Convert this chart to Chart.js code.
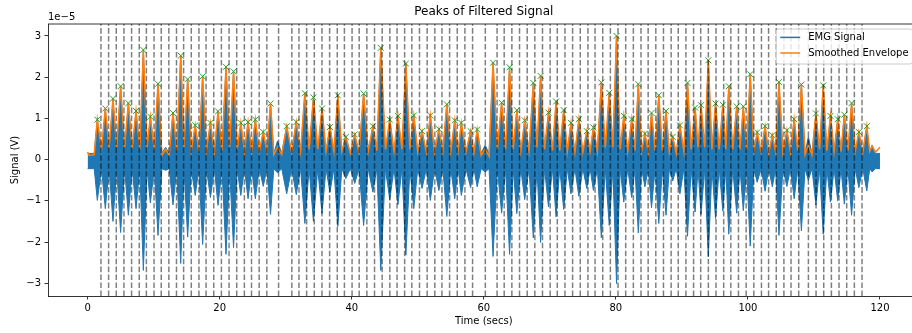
<!DOCTYPE html>
<html>
<head>
<meta charset="utf-8">
<script src="https://cdn.jsdelivr.net/npm/chart.js@4.4.0/dist/chart.umd.min.js"></script>
<style>
html,body{margin:0;padding:0;background:#fff;overflow:hidden;width:912px;height:333px}
#wrap{width:912px;height:333px;overflow:hidden;position:relative}
canvas{display:block}
</style>
</head>
<body>
<div id="wrap"><canvas id="c" width="930" height="333"></canvas></div>
<script>
// ---- data (signal values in units of 1e-5 V, time in seconds) ----
const peakT = [1.47, 2.68, 3.84, 5.0, 6.17, 7.33, 8.44, 9.5, 10.66, 12.93,
  14.1, 15.15, 16.3, 17.42, 18.6, 19.75, 20.96, 22.1, 23.2, 24.3,
  25.4, 26.6, 27.7, 30.15, 31.6, 32.9, 34.2, 35.5, 36.7, 37.9,
  39.1, 40.45, 41.8, 43.2, 44.4, 45.76, 47.0, 48.2, 49.4, 50.65,
  51.9, 53.2, 54.4, 55.6, 56.6, 58.0, 59.0, 61.4, 62.7, 63.9,
  65.0, 66.2, 67.5, 68.6, 69.8, 70.95, 72.1, 73.2, 74.4, 75.6,
  76.6, 77.8, 79.0, 80.1, 81.2, 82.4, 83.4, 84.4, 85.4, 86.5,
  87.6, 88.6, 89.7, 90.85, 92.0, 92.9, 94.0, 95.1, 96.2, 97.1,
  98.3, 99.3, 100.35, 101.4, 102.6, 103.7, 104.7, 105.9, 107.0, 108.1,
  110.3, 111.4, 112.5, 113.6, 114.6, 115.7, 116.8, 118.0];
const peakV = [0.97, 1.24, 1.48, 1.78, 1.37, 1.18, 2.66, 1.04, 1.84, 1.13,
  2.52, 1.95, 0.83, 2.02, 0.89, 1.17, 2.25, 2.14, 0.89, 0.91,
  0.97, 0.67, 1.36, 0.81, 0.91, 1.61, 1.51, 1.24, 0.79, 1.56,
  0.55, 0.61, 1.60, 0.81, 2.71, 0.97, 1.06, 2.33, 1.07, 0.69,
  1.07, 0.74, 1.34, 0.95, 0.89, 0.69, 0.73, 2.35, 1.38, 2.24,
  1.20, 0.95, 1.86, 2.03, 1.14, 1.41, 1.20, 0.89, 0.98, 0.69,
  0.78, 1.87, 1.62, 3.00, 1.06, 0.98, 1.83, 0.63, 1.13, 1.56,
  1.18, 0.55, 0.83, 1.86, 1.26, 1.32, 2.41, 1.36, 1.33, 1.78,
  1.29, 1.29, 2.07, 0.66, 0.81, 0.59, 1.88, 0.71, 0.98, 1.82,
  1.12, 1.80, 1.06, 0.98, 1.09, 1.37, 0.67, 0.81];
// EMG negative excursion at each burst
const peakLow = [-0.99, -1.19, -1.50, -1.77, -1.35, -1.19, -2.69, -1.05, -1.84, -1.10,
  -2.52, -1.88, -0.87, -2.06, -0.92, -1.11, -2.30, -2.14, -0.87, -0.95,
  -0.95, -0.65, -1.33, -0.83, -0.85, -1.55, -1.50, -1.31, -0.79, -1.62,
  -0.46, -0.58, -1.60, -0.79, -2.69, -0.97, -1.09, -2.32, -1.19, -0.70,
  -0.99, -0.75, -1.38, -0.95, -0.87, -0.68, -0.66, -2.35, -1.30, -2.30,
  -1.31, -0.97, -1.90, -2.01, -1.15, -1.39, -1.21, -0.83, -0.89, -0.70,
  -0.75, -1.90, -1.60, -3.01, -1.03, -0.92, -1.78, -0.66, -1.17, -1.55,
  -1.35, -0.52, -0.83, -1.86, -1.27, -1.33, -2.36, -1.43, -1.25, -1.81,
  -1.30, -1.24, -2.10, -0.55, -0.77, -0.66, -1.84, -0.65, -0.95, -1.73,
  -1.10, -1.81, -1.03, -1.00, -1.08, -1.35, -0.68, -0.76];
// envelope between bursts
const valleyT = [0, 0.25, 1.0, 2.1, 3.25, 4.4, 5.6, 6.75, 7.9, 9.0, 10.1, 11.25, 12.35,
  13.5, 14.6, 15.7, 16.85, 18.0, 19.2, 20.35, 21.5, 22.65, 23.75, 24.85, 26.0, 27.15,
  28.2, 29.4, 30.9, 32.25, 33.55, 34.85, 36.1, 37.3, 38.5, 39.8, 41.1, 42.5, 43.8,
  45.1, 46.4, 47.6, 48.8, 50.0, 51.3, 52.55, 53.8, 55.0, 56.1, 57.3, 58.5, 59.6, 60.8,
  62.05, 63.3, 64.45, 65.6, 66.85, 68.05, 69.2, 70.4, 71.5, 72.65, 73.8, 75.0, 76.1,
  77.2, 78.4, 79.55, 80.65, 81.8, 82.9, 83.9, 84.9, 85.95, 87.05, 88.1, 89.15, 90.3,
  91.4, 92.45, 93.45, 94.55, 95.65, 96.65, 97.7, 98.8, 99.8, 100.9, 102.0, 103.15,
  104.2, 105.3, 106.45, 107.55, 108.65, 109.7, 110.85, 111.95, 113.05, 114.1, 115.15,
  116.25, 117.4, 118.45, 119.3, 120.0];
const valleyEnv = [0.18, 0.10, 0.12, 0.25, 0.28, 0.30, 0.30, 0.28, 0.25, 0.30, 0.25, 0.10, 0.10,
  0.22, 0.30, 0.22, 0.20, 0.25, 0.20, 0.22, 0.30, 0.25, 0.20, 0.20, 0.20, 0.20,
  0.12, 0.12, 0.18, 0.20, 0.25, 0.25, 0.20, 0.20, 0.20, 0.15, 0.18, 0.20, 0.22,
  0.25, 0.20, 0.25, 0.25, 0.18, 0.18, 0.18, 0.20, 0.20, 0.20, 0.18, 0.15, 0.10, 0.08,
  0.25, 0.25, 0.25, 0.20, 0.20, 0.30, 0.25, 0.22, 0.22, 0.20, 0.18, 0.18, 0.20,
  0.20, 0.30, 0.30, 0.25, 0.20, 0.22, 0.20, 0.18, 0.22, 0.22, 0.18, 0.15, 0.20,
  0.25, 0.30, 0.30, 0.25, 0.25, 0.25, 0.25, 0.25, 0.25, 0.20, 0.18, 0.15,
  0.18, 0.18, 0.18, 0.22, 0.12, 0.12, 0.25, 0.22, 0.20, 0.20, 0.22,
  0.20, 0.18, 0.20, 0.18, 0.30];
// EMG noise band between bursts
const NOISE_HI = 0.15, NOISE_LO = -0.22;
// small unmarked bursts
const bumpT = [11.8, 28.75, 60.2, 109.15, 118.8];
const bumpEnv = [0.25, 0.30, 0.25, 0.35, 0.33];
const bumpHi = [0.30, 0.45, 0.35, 0.55, 0.35];
const bumpLo = [-0.26, -0.32, -0.30, -0.50, -0.30];
// vertical dashed marker lines
const dashT = [2.02, 3.18, 4.34, 5.50, 6.66, 7.82, 8.90, 10.06, 11.15, 12.30, 13.46, 14.54,
  15.70, 16.86, 17.94, 19.10, 20.26, 21.42, 22.58, 23.74, 24.82, 25.98, 27.14, 28.92,
  30.93, 32.01, 33.17, 34.33, 35.49, 36.65, 37.81, 38.89, 40.05, 41.13, 42.29, 43.45,
  44.61, 45.77, 46.86, 48.01, 49.10, 50.26, 51.42, 52.58, 53.66, 54.82, 55.98, 57.14,
  58.30, 60.23, 62.01, 63.09, 64.25, 65.41, 66.57, 67.73, 68.89, 70.05, 71.13, 72.29,
  73.45, 74.61, 75.77, 76.85, 78.01, 79.17, 80.33, 81.49, 82.65, 83.81, 84.89, 86.05,
  87.21, 88.37, 89.45, 90.61, 91.77, 92.85, 94.01, 95.17, 96.33, 97.41, 98.57, 99.73,
  100.89, 102.05, 103.13, 104.29, 105.45, 106.53, 107.69, 109.16, 110.32, 111.48,
  112.64, 113.80, 114.96, 116.12, 117.28];
const xTicksStep = 20, yTicksStep = 1;
const X_MIN = -6, X_MAX = 126, Y_MIN = -3.31, Y_MAX = 3.29;

// ---- build series ----
const pts = [];
peakT.forEach((t, i) => pts.push({t, env: peakV[i], hi: peakV[i], lo: peakLow[i]}));
valleyT.forEach((t, i) => pts.push({t, env: valleyEnv[i], hi: NOISE_HI, lo: NOISE_LO}));
bumpT.forEach((t, i) => pts.push({t, env: bumpEnv[i], hi: bumpHi[i], lo: bumpLo[i]}));
pts.sort((a, b) => a.t - b.t);

const emgUpper = pts.map(p => ({x: p.t, y: p.hi}));
const emgLower = pts.map(p => ({x: p.t, y: p.lo}));
const envelope = pts.map(p => ({x: p.t, y: p.env}));
const peaks = peakT.map((t, i) => ({x: t, y: peakV[i]}));
const dashData = [];
dashT.forEach(t => { dashData.push({x: t, y: Y_MIN}, {x: t, y: Y_MAX}, {x: t, y: null}); });

const FONT = 'DejaVu Sans';
const BLUE = '#1f77b4', ORANGE = '#ff7f0e', GREEN = '#2ca02c';

const framePlugin = {
  id: 'frame',
  afterDraw(chart) {
    const ctx = chart.ctx, a = chart.chartArea;
    ctx.save();
    // top and right spines
    ctx.strokeStyle = '#000'; ctx.lineWidth = 0.8;
    ctx.beginPath();
    ctx.moveTo(a.left, a.top); ctx.lineTo(a.right, a.top); ctx.lineTo(a.right, a.bottom);
    ctx.stroke();
    // offset text
    ctx.font = '10px "' + FONT + '"';
    ctx.fillStyle = '#000'; ctx.textAlign = 'left'; ctx.textBaseline = 'alphabetic';
    ctx.fillText('1e\u22125', a.left, a.top - 4);
    // legend
    const items = chart.data.datasets.filter(d => d.inLegend);
    const tw = Math.max(...items.map(d => ctx.measureText(d.label).width));
    const w = 4 + 20 + 8 + tw + 4, h = 35;
    const right = a.right - 7, top = a.top + 5, left = right - w;
    ctx.beginPath();
    if (ctx.roundRect) ctx.roundRect(left, top, w, h, 2.5); else ctx.rect(left, top, w, h);
    ctx.fillStyle = 'rgba(255,255,255,0.8)'; ctx.fill();
    ctx.strokeStyle = '#cccccc'; ctx.lineWidth = 1; ctx.stroke();
    items.forEach((d, i) => {
      const cy = top + 8.4 + i * 15.6;
      ctx.beginPath(); ctx.moveTo(left + 4, cy); ctx.lineTo(left + 24, cy);
      ctx.strokeStyle = d.borderColor; ctx.lineWidth = 1.5; ctx.stroke();
      ctx.fillStyle = '#000'; ctx.textBaseline = 'middle'; ctx.textAlign = 'left';
      ctx.fillText(d.label, left + 32, cy + 0.5);
    });
    ctx.restore();
  }
};

new Chart(document.getElementById('c'), {
  type: 'line',
  data: {
    datasets: [
      {label: 'EMG Signal', inLegend: true, data: emgUpper, borderColor: BLUE, backgroundColor: BLUE,
       borderWidth: 1, pointRadius: 0, fill: false, order: 3},
      {label: 'EMG low', data: emgLower, borderColor: BLUE, backgroundColor: BLUE,
       borderWidth: 1, pointRadius: 0, fill: '-1', order: 3},
      {label: 'Smoothed Envelope', inLegend: true, data: envelope, borderColor: ORANGE,
       borderWidth: 1.5, pointRadius: 0, fill: false, order: 2},
      {label: 'Peaks', data: peaks, showLine: false, pointStyle: 'crossRot', pointRadius: 4.2,
       pointBorderColor: GREEN, pointBackgroundColor: 'rgba(0,0,0,0)', pointBorderWidth: 1,
       borderColor: GREEN, order: 1},
      {label: 'Markers', data: dashData, borderColor: 'rgba(0,0,0,0.5)', borderWidth: 1.5,
       borderDash: [5.55, 2.4], pointRadius: 0, spanGaps: false, fill: false, order: 0}
    ]
  },
  options: {
    responsive: false,
    animation: false,
    devicePixelRatio: 1,
    events: [],
    layout: {padding: {left: 0, right: 10.4, top: 0, bottom: 0}},
    plugins: {
      legend: {display: false},
      tooltip: {enabled: false},
      title: {display: true, text: 'Peaks of Filtered Signal', fullSize: false,
        color: '#000', font: {family: FONT, size: 12, weight: 'normal'},
        padding: {top: 5, bottom: 4.6}}
    },
    scales: {
      x: {
        type: 'linear', min: X_MIN, max: X_MAX,
        afterFit: s => { s.height = 37; },
        grid: {drawOnChartArea: false, drawTicks: true, tickLength: 3.5, color: '#000', lineWidth: 0.8},
        border: {display: true, color: '#000', width: 0.8},
        ticks: {stepSize: xTicksStep, includeBounds: false, autoSkip: false, maxRotation: 0,
          padding: 2.5, color: '#000', font: {family: FONT, size: 10},
          callback: v => (v < 0 ? '\u2212' + Math.abs(v) : String(v))},
        title: {display: true, text: 'Time (secs)', color: '#000', font: {family: FONT, size: 10},
          padding: {top: 0, bottom: 6}}
      },
      y: {
        type: 'linear', min: Y_MIN, max: Y_MAX,
        afterFit: s => { s.width = 48; },
        grid: {drawOnChartArea: false, drawTicks: true, tickLength: 3.5, color: '#000', lineWidth: 0.8},
        border: {display: true, color: '#000', width: 0.8},
        ticks: {stepSize: yTicksStep, includeBounds: false, autoSkip: false,
          padding: 3.5, color: '#000', font: {family: FONT, size: 10},
          callback: v => (v < 0 ? '\u2212' + Math.abs(v) : String(v))},
        title: {display: true, text: 'Signal (V)', color: '#000', font: {family: FONT, size: 10},
          padding: {top: 9, bottom: 0}}
      }
    }
  },
  plugins: [framePlugin]
});
</script>
</body>
</html>
